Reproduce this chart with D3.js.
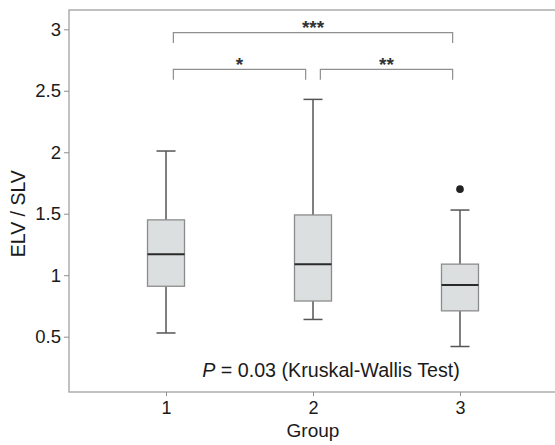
<!DOCTYPE html>
<html>
<head>
<meta charset="utf-8">
<script src="https://cdn.jsdelivr.net/npm/d3@7"></script>
<style>
  body { margin: 0; background: #fff; }
  svg { display: block; font-family: "Liberation Sans", Arial, sans-serif; }
</style>
</head>
<body>
<svg id="chart"></svg>
<script>
// box plot values
const groups = [1, 2, 3]
const whiskerLow = [0.53, 0.64, 0.42]
const q1 = [0.91, 0.79, 0.71]
const median = [1.17, 1.09, 0.92]
const q3 = [1.45, 1.49, 1.09]
const whiskerHigh = [2.01, 2.43, 1.53]
const outliers = [[], [], [1.70]]

const yTicks = [0.5, 1, 1.5, 2, 2.5, 3]
const yTickLabels = ["0.5", "1", "1.5", "2", "2.5", "3"]

// significance brackets
const bracketFrom = [1, 1, 2]
const bracketTo = [3, 2, 3]
const bracketLevel = [2.973, 2.674, 2.674]
const bracketLabel = ["***", "*", "**"]

const width = 555, height = 445
const frame = {left: 69, top: 10, right: 557, bottom: 392}

const svg = d3.select("#chart").attr("width", width).attr("height", height)

const x = d3.scaleLinear().domain([0.34, 3.66]).range([frame.left, frame.right])
const y = d3.scaleLinear().domain([0.05, 3.157]).range([frame.bottom, frame.top])

// frame
svg.append("rect")
    .attr("x", frame.left).attr("y", frame.top)
    .attr("width", frame.right - frame.left).attr("height", frame.bottom - frame.top)
    .attr("fill", "none").attr("stroke", "#a0a0a0").attr("stroke-width", 1.3)

// axes
const yAxis = d3.axisLeft(y).tickValues(yTicks).tickFormat((d, i) => yTickLabels[i]).tickSize(5).tickPadding(3)
const yG = svg.append("g").attr("transform", `translate(${frame.left},0)`).call(yAxis)
yG.select(".domain").remove()
yG.selectAll(".tick line").attr("stroke", "#909090")
yG.selectAll(".tick text").attr("font-size", 18.5).attr("fill", "#1a1a1a").attr("font-family", "Liberation Sans, Arial, sans-serif")

const xAxis = d3.axisBottom(x).tickValues(groups).tickFormat(d3.format("d")).tickSize(4).tickPadding(5)
const xG = svg.append("g").attr("transform", `translate(0,${frame.bottom})`).call(xAxis)
xG.select(".domain").remove()
xG.selectAll(".tick line").attr("stroke", "#909090")
xG.selectAll(".tick text").attr("font-size", 18).attr("fill", "#1a1a1a").attr("font-family", "Liberation Sans, Arial, sans-serif")

// axis titles
svg.append("text").text("Group")
    .attr("x", x(2)).attr("y", 437).attr("text-anchor", "middle")
    .attr("font-size", 19).attr("fill", "#1a1a1a")
svg.append("text").text("ELV / SLV")
    .attr("transform", `translate(25,${(y(1.15) + y(1.85)) / 2}) rotate(-90)`)
    .attr("text-anchor", "middle")
    .attr("font-size", 19.5).attr("fill", "#1a1a1a")

// boxes
const boxW = 37, capW = 19
const boxes = svg.append("g").selectAll("g")
    .data(groups.map((g, i) => ({g, lo: whiskerLow[i], q1: q1[i], med: median[i], q3: q3[i], hi: whiskerHigh[i], out: outliers[i]})))
    .join("g")

boxes.append("line")
    .attr("x1", d => x(d.g)).attr("x2", d => x(d.g))
    .attr("y1", d => y(d.hi)).attr("y2", d => y(d.q3))
    .attr("stroke", "#555").attr("stroke-width", 1.5)
boxes.append("line")
    .attr("x1", d => x(d.g)).attr("x2", d => x(d.g))
    .attr("y1", d => y(d.q1)).attr("y2", d => y(d.lo))
    .attr("stroke", "#555").attr("stroke-width", 1.5)
boxes.selectAll(".cap")
    .data(d => [{g: d.g, v: d.hi}, {g: d.g, v: d.lo}])
    .join("line").attr("class", "cap")
    .attr("x1", d => x(d.g) - capW / 2).attr("x2", d => x(d.g) + capW / 2)
    .attr("y1", d => y(d.v)).attr("y2", d => y(d.v))
    .attr("stroke", "#555").attr("stroke-width", 1.5)
boxes.append("rect")
    .attr("x", d => x(d.g) - boxW / 2).attr("width", boxW)
    .attr("y", d => y(d.q3)).attr("height", d => y(d.q1) - y(d.q3))
    .attr("fill", "#dcdfdf").attr("stroke", "#8c8c8c").attr("stroke-width", 1.3)
boxes.append("line")
    .attr("x1", d => x(d.g) - boxW / 2).attr("x2", d => x(d.g) + boxW / 2)
    .attr("y1", d => y(d.med)).attr("y2", d => y(d.med))
    .attr("stroke", "#2a2a2a").attr("stroke-width", 2)
boxes.selectAll("circle")
    .data(d => d.out.map(v => ({g: d.g, v})))
    .join("circle")
    .attr("cx", d => x(d.g)).attr("cy", d => y(d.v)).attr("r", 3.8)
    .attr("fill", "#222")

// brackets
const inset = 0.05, drop = 0.085
const brackets = svg.append("g").selectAll("g")
    .data(bracketLabel.map((label, i) => ({from: bracketFrom[i], to: bracketTo[i], level: bracketLevel[i], label})))
    .join("g")
brackets.append("path")
    .attr("d", d => {
        let x1 = x(d.from + inset), x2 = x(d.to - inset)
        return `M${x1},${y(d.level - drop)}V${y(d.level)}H${x2}V${y(d.level - drop)}`
    })
    .attr("fill", "none").attr("stroke", "#8f8f8f").attr("stroke-width", 1.2)
brackets.append("text")
    .text(d => d.label)
    .attr("x", d => (x(d.from + inset) + x(d.to - inset)) / 2)
    .attr("y", d => y(d.level) + 1.5)
    .attr("text-anchor", "middle")
    .attr("font-size", 19).attr("font-weight", "bold").attr("fill", "#333")

// test annotation
const note = svg.append("text")
    .attr("x", x(2) + 18).attr("y", 377)
    .attr("text-anchor", "middle")
    .attr("font-size", 19.7).attr("fill", "#1a1a1a")
note.append("tspan").text("P").attr("font-style", "italic")
note.append("tspan").text(" = 0.03 (Kruskal-Wallis Test)")
</script>
</body>
</html>
